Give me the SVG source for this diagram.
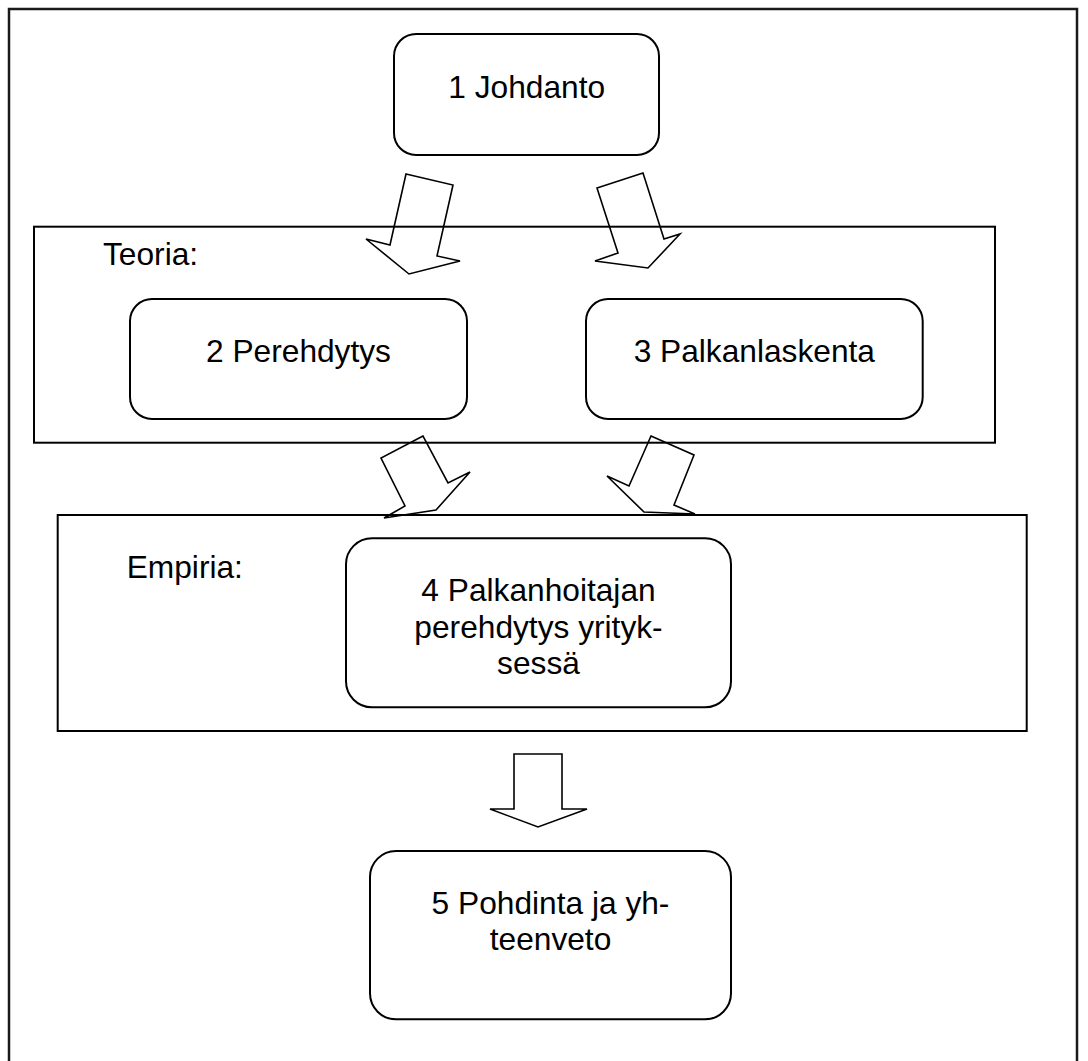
<svg xmlns="http://www.w3.org/2000/svg" width="1088" height="1061" viewBox="0 0 1088 1061">
  <style>
    .frame { fill: none; stroke: #000; stroke-width: 2; }
    .outer { fill: none; stroke: #1a1a1a; stroke-width: 2.5; }
    .node { fill: #fff; stroke: #000; stroke-width: 2; }
    .arrow { fill: none; stroke: #000; stroke-width: 1.6; stroke-linejoin: miter; }
    text { font-family: "Liberation Sans", Arial, sans-serif; font-size: 31.7px; fill: #000; }
    .c { text-anchor: middle; }
  </style>
  <rect width="1088" height="1061" fill="#fff"/>

  <!-- page frame (bottom edge runs off the sheet) -->
  <rect class="outer" x="9" y="9" width="1068" height="1100"/>

  <!-- section frames -->
  <g id="teoria">
    <rect class="frame" x="34" y="226.7" width="961" height="216"/>
    <text x="103" y="265">Teoria:</text>
  </g>
  <g id="empiria">
    <rect class="frame" x="57.7" y="515" width="969" height="216"/>
    <text x="126.7" y="577.7">Empiria:</text>
  </g>

  <!-- block arrows -->
  <g id="connectors">
    <polygon class="arrow" points="406,174 453,185 437,256 460,261 409,274 366,239 390,245"/>
    <polygon class="arrow" points="643,173 597,188 618,253 595,261 648,268 680,234 664,239"/>
    <polygon class="arrow" points="423,436 381,458 405,506 384,518 436,510 470,472 448,483"/>
    <polygon class="arrow" points="651,436 694,455 674,505 695,514 644,512 607,476 629,486"/>
    <polygon class="arrow" points="514,754 562,754 562,809 587,809 538,827 490,809 514,809"/>
  </g>

  <g id="n1">
    <rect class="node" x="394" y="34" width="265" height="121" rx="22"/>
    <text class="c" x="526.7" y="98.3">1 Johdanto</text>
  </g>
  <g id="n2">
    <rect class="node" x="130" y="299" width="337" height="120" rx="22"/>
    <text class="c" x="298.5" y="361.7">2 Perehdytys</text>
  </g>
  <g id="n3">
    <rect class="node" x="586" y="299" width="336.7" height="120" rx="22"/>
    <text class="c" x="754.3" y="361.7">3 Palkanlaskenta</text>
  </g>
  <g id="n4">
    <rect class="node" x="346" y="538.3" width="385" height="169" rx="26"/>
    <text class="c" x="538.5" y="601">4 Palkanhoitajan</text>
    <text class="c" x="538.5" y="637.5">perehdytys yrityk-</text>
    <text class="c" x="538.5" y="674">sessä</text>
  </g>
  <g id="n5">
    <rect class="node" x="370" y="851" width="361" height="168.3" rx="26"/>
    <text class="c" x="550.5" y="914">5 Pohdinta ja yh-</text>
    <text class="c" x="550.5" y="950">teenveto</text>
  </g>
</svg>
